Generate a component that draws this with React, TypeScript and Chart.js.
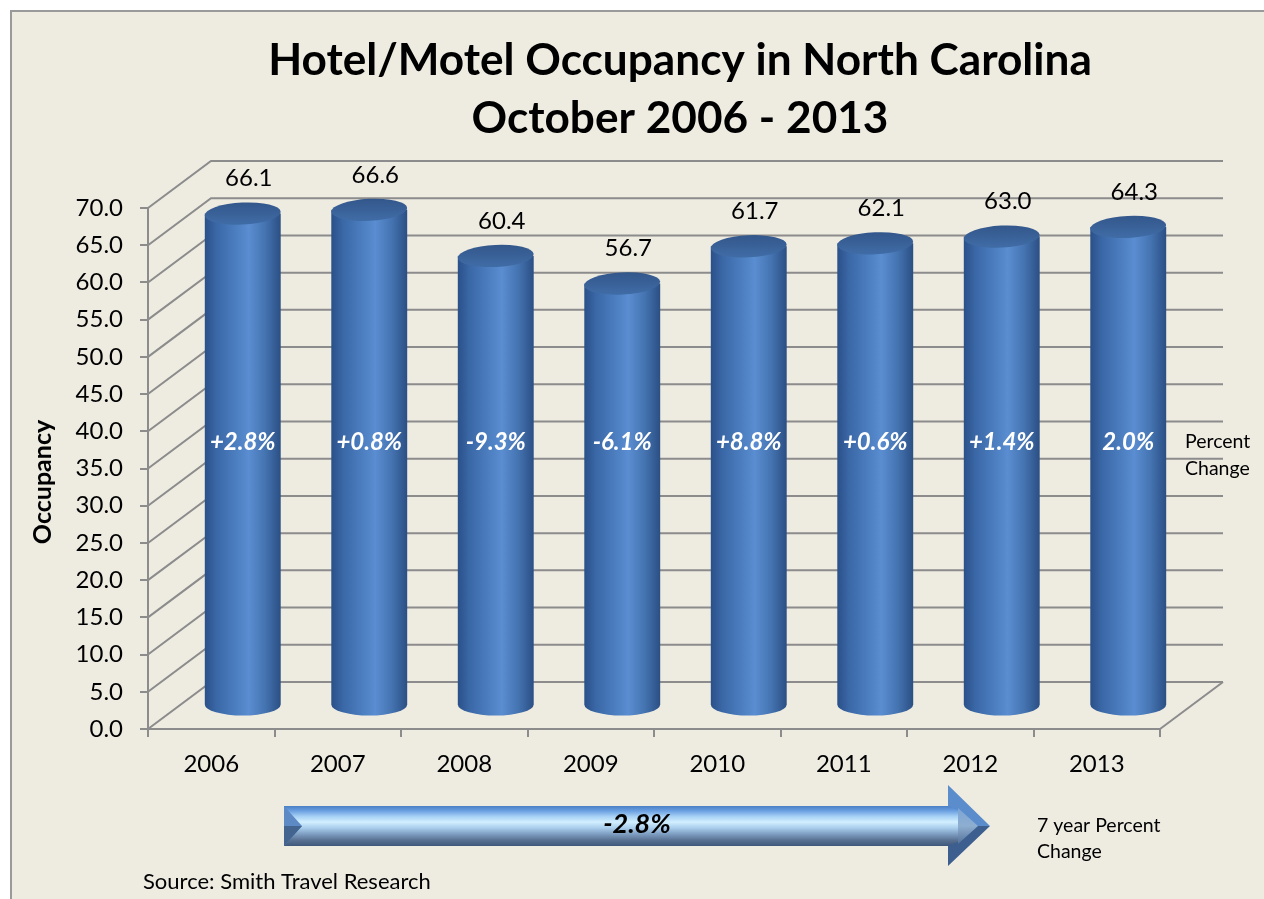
import React, { useEffect, useRef } from "react";
import { Chart, registerables } from "chart.js";

Chart.register(...registerables);

const years = ["2006", "2007", "2008", "2009", "2010", "2011", "2012", "2013"];
const occupancy = [66.1, 66.6, 60.4, 56.7, 61.7, 62.1, 63.0, 64.3];
const percentChange = ["+2.8%", "+0.8%", "-9.3%", "-6.1%", "+8.8%", "+0.6%", "+1.4%", "2.0%"];
const titleLines = ["Hotel/Motel Occupancy in North Carolina", "October 2006 - 2013"];
const yAxisTitle = "Occupancy";
const percentLabel = ["Percent", "Change"];
const sevenYearChange = "-2.8%";
const sevenYearLabel = ["7 year Percent", "Change"];
const sourceText = "Source: Smith Travel Research";
const yMin = 0;
const yMax = 70;
const yStep = 5;

const FONT = "Lato, 'Open Sans', 'DejaVu Sans', sans-serif";
const GRID = "#8c8c8c";
const DX = 63;
const DY = -47;

function fitFont(ctx: CanvasRenderingContext2D, text: string, weight: string, target: number) {
  ctx.font = `${weight} 100px ${FONT}`;
  const w = ctx.measureText(text).width;
  return (100 * target) / w;
}

const decorPlugin = {
  id: "decor3d",
  beforeDraw(chart: any) {
    const ctx: CanvasRenderingContext2D = chart.ctx;
    ctx.save();
    ctx.fillStyle = "#ffffff";
    ctx.fillRect(0, 0, chart.width, chart.height);
    ctx.fillStyle = "#eeebe1";
    ctx.fillRect(10, 10, chart.width - 10, chart.height - 10);
    ctx.strokeStyle = "#9a9a9a";
    ctx.lineWidth = 2;
    ctx.beginPath();
    ctx.moveTo(11, chart.height);
    ctx.lineTo(11, 11);
    ctx.lineTo(chart.width, 11);
    ctx.stroke();

    // title
    ctx.fillStyle = "#000";
    ctx.textAlign = "center";
    ctx.textBaseline = "middle";
    const ts = fitFont(ctx, titleLines[0], "bold", 824);
    ctx.font = `bold ${ts}px ${FONT}`;
    ctx.fillText(titleLines[0], 680, 61);
    ctx.fillText(titleLines[1], 680, 119);

    // y axis title
    ctx.save();
    ctx.translate(43, 482);
    ctx.rotate(-Math.PI / 2);
    ctx.font = `bold 25px ${FONT}`;
    ctx.fillText(yAxisTitle, 0, 0);
    ctx.restore();
    ctx.restore();
  },
  beforeDatasetsDraw(chart: any) {
    const ctx: CanvasRenderingContext2D = chart.ctx;
    const ys = chart.scales.y;
    const area = chart.chartArea;
    ctx.save();
    ctx.strokeStyle = GRID;
    ctx.lineWidth = 2;
    for (let v = yMin; v <= yMax; v += yStep) {
      const y = ys.getPixelForValue(v);
      ctx.beginPath();
      ctx.moveTo(area.left, y);
      ctx.lineTo(area.left + DX, y + DY);
      ctx.lineTo(area.right + DX, y + DY);
      ctx.stroke();
    }
    const y0 = ys.getPixelForValue(0);
    ctx.beginPath();
    ctx.moveTo(area.right, y0);
    ctx.lineTo(area.right + DX, y0 + DY);
    ctx.stroke();
    ctx.restore();
  },
  afterDatasetsDraw(chart: any) {
    const ctx: CanvasRenderingContext2D = chart.ctx;
    const meta = chart.getDatasetMeta(0);
    ctx.save();
    meta.data.forEach((el: any, i: number) => {
      const cx = el.x + DX / 2;
      const topC = el.y + DY / 2;
      const baseC = el.base + DY / 2;
      const rx = el.width / 2;
      const ry = 11;
      const g = ctx.createLinearGradient(cx - rx, 0, cx + rx, 0);
      g.addColorStop(0, "#2a5088");
      g.addColorStop(0.15, "#3a67a6");
      g.addColorStop(0.45, "#4f82c4");
      g.addColorStop(0.58, "#5a8dd1");
      g.addColorStop(0.8, "#4473b0");
      g.addColorStop(1, "#2b4f84");
      ctx.beginPath();
      ctx.moveTo(cx - rx, topC);
      ctx.lineTo(cx - rx, baseC);
      ctx.ellipse(cx, baseC, rx, ry, 0, Math.PI, 0, true);
      ctx.lineTo(cx + rx, topC);
      ctx.closePath();
      ctx.fillStyle = g;
      ctx.fill();
      const tg = ctx.createLinearGradient(0, topC - ry, 0, topC + ry);
      tg.addColorStop(0, "#33578b");
      tg.addColorStop(1, "#406ca6");
      ctx.beginPath();
      ctx.ellipse(cx, topC, rx, ry, -0.05, 0, Math.PI * 2);
      ctx.fillStyle = tg;
      ctx.fill();

      // value label
      ctx.fillStyle = "#000";
      ctx.textAlign = "center";
      ctx.textBaseline = "middle";
      ctx.font = `24px ${FONT}`;
      ctx.fillText(occupancy[i].toFixed(1), cx + 6, topC - 35);

      // percent label
      ctx.fillStyle = "#fff";
      ctx.font = `italic bold 24px ${FONT}`;
      ctx.fillText(percentChange[i], cx, 442);
    });

    ctx.fillStyle = "#000";
    ctx.textAlign = "left";
    ctx.textBaseline = "middle";
    ctx.font = `19.5px ${FONT}`;
    ctx.fillText(percentLabel[0], 1185, 442);
    ctx.fillText(percentLabel[1], 1185, 469);

    // arrow
    const ax0 = 284, ax1 = 950, at = 806, ab = 846, hx = 990, ht = 785, hb = 866;
    const am = (at + ab) / 2;
    const sg = ctx.createLinearGradient(0, at, 0, ab);
    sg.addColorStop(0, "#4a7fc6");
    sg.addColorStop(0.12, "#6a9fe0");
    sg.addColorStop(0.26, "#a6d0f4");
    sg.addColorStop(0.4, "#d2efff");
    sg.addColorStop(0.55, "#a9cdec");
    sg.addColorStop(0.7, "#7e9ec2");
    sg.addColorStop(0.85, "#5a7394");
    sg.addColorStop(1, "#3e587b");
    ctx.fillStyle = sg;
    ctx.fillRect(ax0, at, ax1 - ax0 + 12, ab - at);
    // left bevel
    ctx.beginPath();
    ctx.moveTo(ax0, at);
    ctx.lineTo(ax0 + 18, am);
    ctx.lineTo(ax0, ab);
    ctx.closePath();
    ctx.fillStyle = "#5d8ac4";
    ctx.fill();
    ctx.beginPath();
    ctx.moveTo(ax0, am);
    ctx.lineTo(ax0 + 18, am);
    ctx.lineTo(ax0, ab);
    ctx.closePath();
    ctx.fillStyle = "#42648f";
    ctx.fill();
    // head upper facet
    ctx.beginPath();
    ctx.moveTo(ax1 - 2, ht);
    ctx.lineTo(hx, am);
    ctx.lineTo(ax1 + 12, am);
    ctx.lineTo(ax1 + 12, at + 6);
    ctx.lineTo(ax1 - 2, at);
    ctx.closePath();
    ctx.fillStyle = "#5b8ccc";
    ctx.fill();
    // head lower facet
    ctx.beginPath();
    ctx.moveTo(ax1 - 2, hb);
    ctx.lineTo(hx, am);
    ctx.lineTo(ax1 + 12, am);
    ctx.lineTo(ax1 + 12, ab - 6);
    ctx.lineTo(ax1 - 2, ab);
    ctx.closePath();
    ctx.fillStyle = "#3c5f90";
    ctx.fill();
    // head inner
    const ig = ctx.createLinearGradient(0, at, 0, ab);
    ig.addColorStop(0, "#7aa4d6");
    ig.addColorStop(0.5, "#8eaed0");
    ig.addColorStop(1, "#4d6a92");
    ctx.beginPath();
    ctx.moveTo(ax1 + 8, at + 2);
    ctx.lineTo(hx - 12, am);
    ctx.lineTo(ax1 + 8, ab - 2);
    ctx.closePath();
    ctx.fillStyle = ig;
    ctx.fill();

    ctx.fillStyle = "#000";
    ctx.textAlign = "center";
    ctx.font = `italic bold 27px ${FONT}`;
    ctx.fillText(sevenYearChange, 637, 824);

    ctx.textAlign = "left";
    ctx.font = `19.5px ${FONT}`;
    ctx.fillText(sevenYearLabel[0], 1037, 826);
    ctx.fillText(sevenYearLabel[1], 1037, 852);
    ctx.font = `22px ${FONT}`;
    ctx.fillText(sourceText, 143, 882);
    ctx.restore();
  },
};

export default function App() {
  const ref = useRef<HTMLCanvasElement | null>(null);
  useEffect(() => {
    if (!ref.current) return;
    const chart = new Chart(ref.current, {
      type: "bar",
      data: {
        labels: years,
        datasets: [
          {
            data: occupancy,
            backgroundColor: "rgba(0,0,0,0)",
            borderWidth: 0,
            barPercentage: 0.6,
            categoryPercentage: 1,
          },
        ],
      },
      options: {
        animation: false,
        responsive: false,
        devicePixelRatio: 1,
        layout: { padding: { left: 10, right: 104, top: 208, bottom: 110 } },
        plugins: { legend: { display: false }, tooltip: { enabled: false }, title: { display: false } },
        scales: {
          x: {
            offset: true,
            grid: { drawOnChartArea: false, drawTicks: true, tickLength: 8, color: GRID, lineWidth: 2, offset: true },
            border: { display: true, color: GRID, width: 2 },
            ticks: { font: { family: FONT, size: 24 }, color: "#000", padding: 13 },
            afterFit: (s: any) => {
              s.height = 60;
            },
          },
          y: {
            min: yMin,
            max: yMax,
            grid: { drawOnChartArea: false, drawTicks: true, tickLength: 8, color: GRID, lineWidth: 2 },
            border: { display: true, color: GRID, width: 2 },
            ticks: {
              stepSize: yStep,
              font: { family: FONT, size: 24 },
              color: "#000",
              padding: 17,
              callback: (v: any) => Number(v).toFixed(1),
            },
            afterFit: (s: any) => {
              s.width = 138;
            },
          },
        },
      },
      plugins: [decorPlugin],
    });
    return () => chart.destroy();
  }, []);
  return (
    <div style={{ position: "fixed", left: 0, top: 0, width: 1264, height: 899 }}>
      <canvas ref={ref} width={1264} height={899} style={{ display: "block", width: 1264, height: 899 }} />
    </div>
  );
}
